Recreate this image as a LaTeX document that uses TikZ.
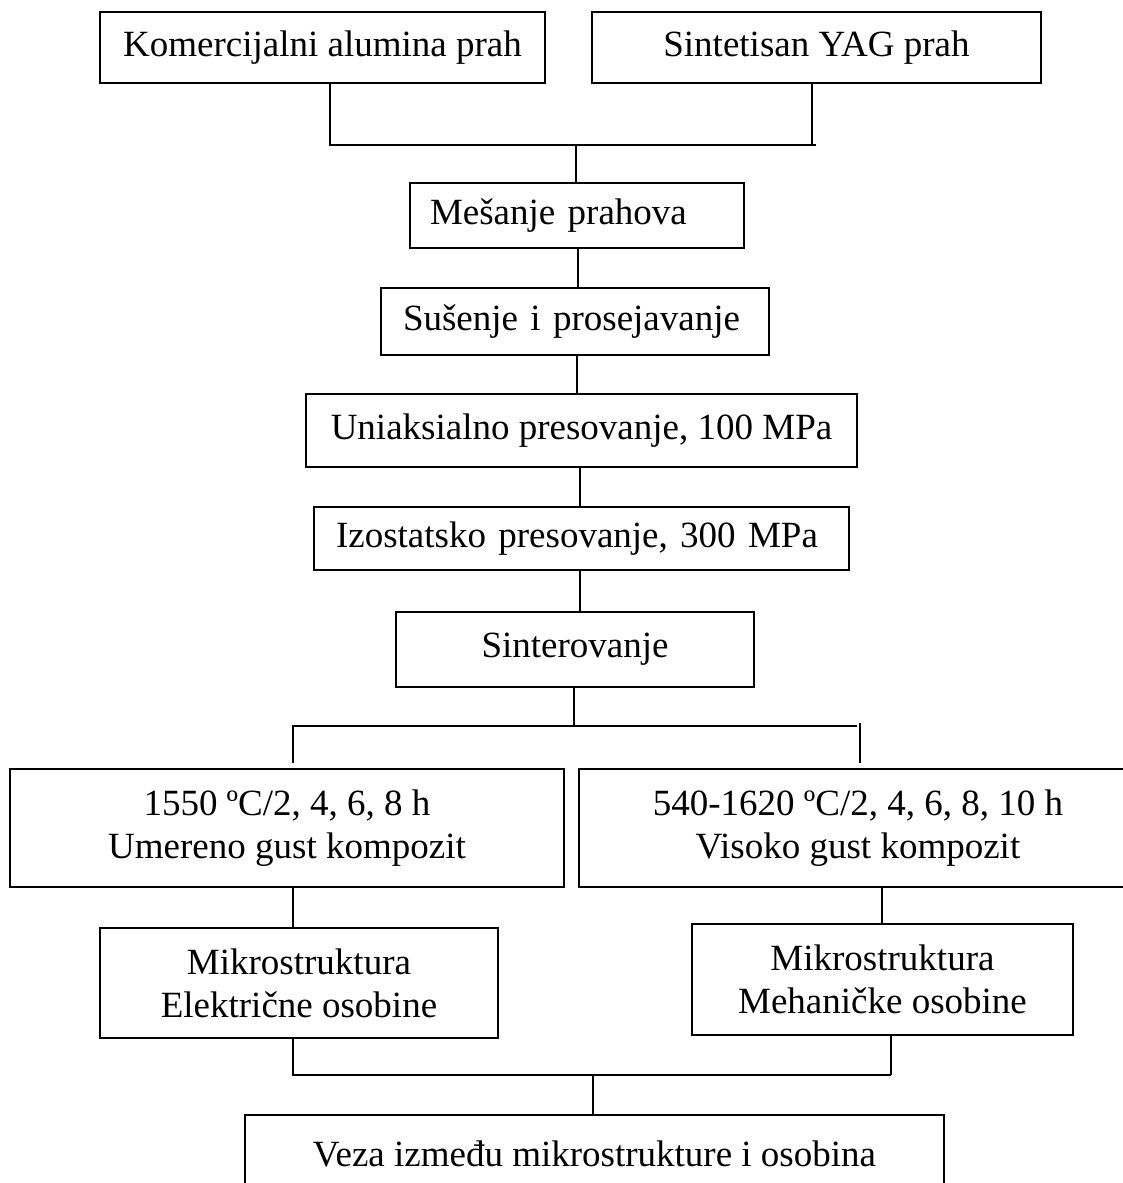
\documentclass[tikz,border=0pt]{standalone}
\usepackage{fontspec}
\setmainfont{Liberation Serif}
\newcommand\diafont{\fontsize{37}{43}\selectfont}
\begin{document}
\begin{tikzpicture}[x=1pt,y=-1pt,
  box/.style={draw, line width=1.5pt, inner sep=0pt, align=center, font=\diafont},
  lbox/.style={draw, line width=1.5pt, inner ysep=0pt, align=left, font=\diafont},
  conn/.style={line width=1.5pt}]
\useasboundingbox (0,0) rectangle (1123,1183);
% boxes
\node[box, minimum width=445pt, minimum height=71pt] (b1) at (322.5,47.5) {Komercijalni alumina prah};
\node[box, minimum width=449pt, minimum height=71pt] (b2) at (816.5,47.5) {Sintetisan YAG prah};
\node[lbox, text width=294pt, inner xsep=20pt, minimum height=65pt] (mes) at (577,215.5) {Mešanje prahova};
\node[lbox, text width=344pt, inner xsep=22pt, minimum height=67pt] (sus) at (575,321.5) {Sušenje i prosejavanje};
\node[box, minimum width=551pt, minimum height=73pt] (uni) at (581.5,430.5) {Uniaksialno presovanje, 100 MPa};
\node[lbox, text width=491pt, inner xsep=22pt, minimum height=63pt] (izo) at (581.5,538.5) {Izostatsko presovanje, 300 MPa};
\node[box, minimum width=358pt, minimum height=75pt] (sin) at (575,649.5) {Sinterovanje};
\node[box, minimum width=554pt, minimum height=118pt] (bl) at (287,828) {1550 ºC/2, 4, 6, 8 h\\Umereno gust kompozit};
\node[box, minimum width=558pt, minimum height=118pt] (br) at (858,828) {540-1620 ºC/2, 4, 6, 8, 10 h\\Visoko gust kompozit};
\node[box, minimum width=398pt, minimum height=110pt] (ml) at (299,983) {Mikrostruktura\\Električne osobine};
\node[box, minimum width=381pt, minimum height=111pt] (mr) at (882.5,979.5) {Mikrostruktura\\Mehaničke osobine};
\node[box, minimum width=699pt, minimum height=78pt] (vz) at (594.5,1154) {Veza između mikrostrukture i osobina};
% junction coordinates
\coordinate (j1) at (576,145);
\coordinate (j2) at (574,726);
\coordinate (j3) at (593,1075);
% top merge
\draw[conn] (330,0 |- b1.south) |- (816,145);
\draw[conn] (812,0 |- b2.south) -- (812,145);
\draw[conn] (j1) -- (j1 |- mes.north);
% chain
\draw[conn] (578,0 |- mes.south) -- (578,0 |- sus.north);
\draw[conn] (577,0 |- sus.south) -- (577,0 |- uni.north);
\draw[conn] (580,0 |- uni.south) -- (580,0 |- izo.north);
\draw[conn] (580,0 |- izo.south) -- (580,0 |- sin.north);
% split
\draw[conn] (j2 |- sin.south) -- (j2);
\draw[conn] (293,763) -- (293,726) -- (857,726);
\draw[conn] (860,723) -- (860,763);
% down to result boxes
\draw[conn] (293,0 |- bl.south) -- (293,0 |- ml.north);
\draw[conn] (882,0 |- br.south) -- (882,0 |- mr.north);
% bottom merge
\draw[conn] (293,0 |- ml.south) |- (891,1075);
\draw[conn] (891,0 |- mr.south) -- (891,1075);
\draw[conn] (j3) -- (j3 |- vz.north);
\end{tikzpicture}
\end{document}
